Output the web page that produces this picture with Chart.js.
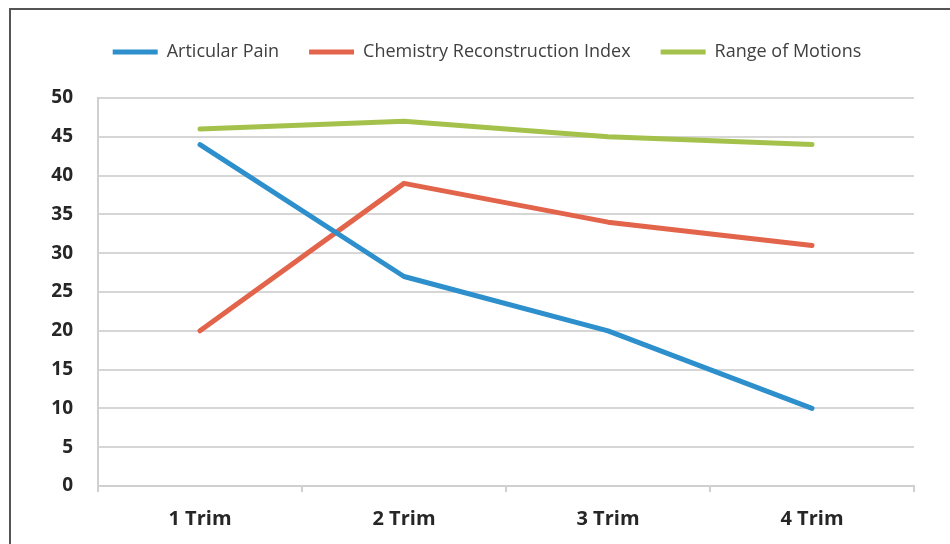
<!DOCTYPE html>
<html>
<head>
<meta charset="utf-8">
<script src="https://cdn.jsdelivr.net/npm/chart.js@4"></script>
<style>
  body { margin: 0; background: #fff; overflow: hidden; }
  #frame { position: absolute; left: 9px; top: 8px; width: 960px; height: 560px; border-left: 2px solid #555; border-top: 2px solid #555; }
  #wrap { position: absolute; left: 0; top: 0; width: 950px; height: 544px; }
</style>
</head>
<body>
<div id="frame"></div>
<div id="wrap"><canvas id="chartCanvas" width="950" height="544"></canvas></div>
<script>
// data
const labels = ['1 Trim', '2 Trim', '3 Trim', '4 Trim'];
const articularPain = [44, 27, 20, 10];
const chemistryIndex = [20, 39, 34, 31];
const rangeOfMotions = [46, 47, 45, 44];
const yTicks = [0, 5, 10, 15, 20, 25, 30, 35, 40, 45, 50];

function lijn(label, data, kleur){
    return {
        label: label,
        data: data,
        borderColor: kleur,
        backgroundColor: kleur,
        borderWidth: 5,
        borderCapStyle: 'round',
        borderJoinStyle: 'round',
        pointRadius: 0,
        tension: 0,
        fill: false
    };
}

//extra ruimte onder de legenda en legenda iets naar rechts
const legendaRuimte = {
    id: 'legendaRuimte',
    afterInit(chart){
        const legend = chart.legend;
        const origFit = legend.fit;
        legend.fit = function(){
            origFit.call(this);
            this.height += 27;
        };
    },
    afterLayout(chart){
        chart.legend.left += 30;
        chart.legend.right += 30;
    }
};

const ctx = document.getElementById('chartCanvas').getContext('2d');
const myChart = new Chart(ctx, {
    type: 'line',
    data: {
        labels: labels,
        datasets: [
            lijn('Articular Pain', articularPain, '#2D8FCB'),
            lijn('Chemistry Reconstruction Index', chemistryIndex, '#E2644B'),
            lijn('Range of Motions', rangeOfMotions, '#A4C24B')
        ]
    },
    plugins: [legendaRuimte],
    options: {
        responsive: false,
        animation: false,
        layout: { padding: { left: 0, right: 36, top: 13, bottom: 0 } },
        plugins: {
            tooltip: { enabled: false },
            legend: {
                position: 'top',
                labels: {
                    usePointStyle: true,
                    pointStyle: 'line',
                    pointStyleWidth: 45,
                    boxHeight: 18,
                    padding: 30,
                    color: '#404040',
                    font: { family: "'Open Sans'", size: 18 }
                }
            }
        },
        scales: {
            x: {
                offset: true,
                afterFit: (scale) => { scale.height = 58; },
                grid: { offset: true, drawOnChartArea: false, drawTicks: true, tickLength: 6, color: '#d0d0d0', lineWidth: 2 },
                border: { color: '#d0d0d0', width: 2 },
                ticks: { color: '#262626', padding: 15, font: { family: "'Open Sans'", size: 20, weight: 'bold' } }
            },
            y: {
                min: 0,
                max: 50,
                afterFit: (scale) => { scale.width = 98; },
                afterBuildTicks: (scale) => { scale.ticks = yTicks.map(v => ({ value: v })); },
                grid: { drawTicks: false, color: '#d6d6d6', lineWidth: 2 },
                border: { color: '#d0d0d0', width: 2 },
                ticks: { color: '#262626', padding: 25, font: { family: "'Open Sans'", size: 19, weight: 'bold' } }
            }
        }
    }
});
console.log('chartArea', myChart.chartArea);
</script>
</body>
</html>
